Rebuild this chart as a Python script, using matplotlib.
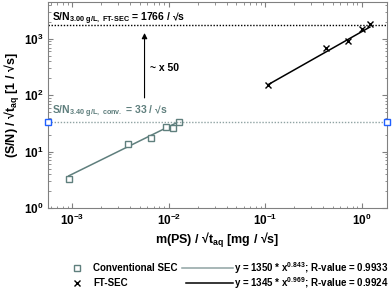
import numpy as np
import matplotlib.pyplot as plt

plt.rcParams['font.family'] = ['Liberation Sans', 'DejaVu Sans']
plt.rcParams['font.weight'] = 'bold'
plt.rcParams['mathtext.fontset'] = 'custom'
plt.rcParams['mathtext.rm'] = 'Liberation Sans:bold'
plt.rcParams['mathtext.it'] = 'Liberation Sans:bold'
plt.rcParams['mathtext.bf'] = 'Liberation Sans:bold'
plt.rcParams['mathtext.default'] = 'regular'

# Conventional SEC
conv_x = [0.00092, 0.0038, 0.0066, 0.0094, 0.0111, 0.0128]
conv_y = [3.3, 13.5, 17.3, 27, 26.5, 33]
# FT-SEC
ft_x = [0.107, 0.42, 0.72, 1.0, 1.21]
ft_y = [150, 700, 930, 1480, 1800]

conv_a, conv_b = 1350, 0.843
ft_a, ft_b = 1345, 0.969
sn_ft = 1766
sn_conv = 33

gray = '#5f7f7d'
gray_l = '#8fa3a3'

fig = plt.figure(figsize=(3.92, 2.91), dpi=100)
ax = fig.add_axes([48/392, 1-208/291, 339/392, 206/291])
ax.set_xscale('log')
ax.set_yscale('log')
ax.set_xlim(5.6e-4, 1.82)
ax.set_ylim(1, 4500)

xf = np.array([conv_x[0], conv_x[-1]])
ax.plot(xf, conv_a * xf**conv_b, color=gray, lw=1.1)
ax.plot(conv_x, conv_y, 's', mfc='white', mec=gray, ms=5, mew=1)
xf = np.array([ft_x[0], ft_x[-1]])
ax.plot(xf, ft_a * xf**ft_b, color='black', lw=1.1)
ax.plot(ft_x, ft_y, 'x', color='black', ms=5, mew=1)

ax.axhline(sn_ft, color='black', ls=(0, (1, 1.2)), lw=1)
ax.plot([5.6e-4, 1.82], [sn_conv, sn_conv], color=gray_l, ls=(0, (1, 1.2)), lw=1,
        marker='s', mfc='white', mec='#2060ff', ms=4.5, mew=1, clip_on=False, zorder=5)

ax.text(0.012, 0.96, r'S/N$_{3.00\ g/L,\ \text{FT-SEC}}$ = 1766 / √s', transform=ax.transAxes,
        fontsize=7.5, va='top', color='black')
ax.text(0.012, 0.505, r'S/N$_{3.40\ g/L,\ conv.}$ = 33 / √s', transform=ax.transAxes,
        fontsize=7.5, va='top', color=gray)
ax.annotate('', xy=(0.0056, 1420), xytext=(0.0056, 80),
            arrowprops=dict(arrowstyle='-|>', color='black', lw=0.8, mutation_scale=8))
ax.text(0.0064, 300, '~ x 50', fontsize=7.5, va='center')

ax.set_xlabel(r'm(PS) / √t$_{aq}$ [mg / √s]', fontsize=9, fontweight='bold', labelpad=2)
ax.set_ylabel(r'(S/N) / √t$_{aq}$ [1 / √s]', fontsize=9, fontweight='bold', labelpad=1)

for s in ax.spines.values():
    s.set_color('#808080')
ax.tick_params(which='both', direction='in', top=True, right=True, colors='#808080',
               labelcolor='black', labelsize=8.5)
ax.tick_params(which='major', length=3.5)
ax.tick_params(which='minor', length=1.8)
for lab in ax.get_xticklabels() + ax.get_yticklabels():
    lab.set_fontweight('bold')

# legend rows
fig.text(93/392, 1-268/291, 'Conventional SEC', fontsize=7, va='center')
fig.text(93/392, 1-283/291, 'FT-SEC', fontsize=7, va='center')
fig.lines.append(plt.Line2D([77/392], [1-268/291], marker='s', mfc='white', mec=gray,
                            ms=5, mew=1, transform=fig.transFigure))
fig.lines.append(plt.Line2D([77/392], [1-283/291], marker='x', color='black',
                            ms=4, mew=1, transform=fig.transFigure))
fig.lines.append(plt.Line2D([182/392, 233/392], [1-268/291]*2, color=gray_l, lw=1.1,
                            transform=fig.transFigure))
fig.lines.append(plt.Line2D([186/392, 233/392], [1-283/291]*2, color='black', lw=1.1,
                            transform=fig.transFigure))
fig.text(234/392, 1-268/291, r'y = 1350 * x$^{0.843}$; R-value = 0.9933', fontsize=7, va='center')
fig.text(234/392, 1-283/291, r'y = 1345 * x$^{0.969}$; R-value = 0.9924', fontsize=7, va='center')

fig.savefig('out.png', dpi=100)
